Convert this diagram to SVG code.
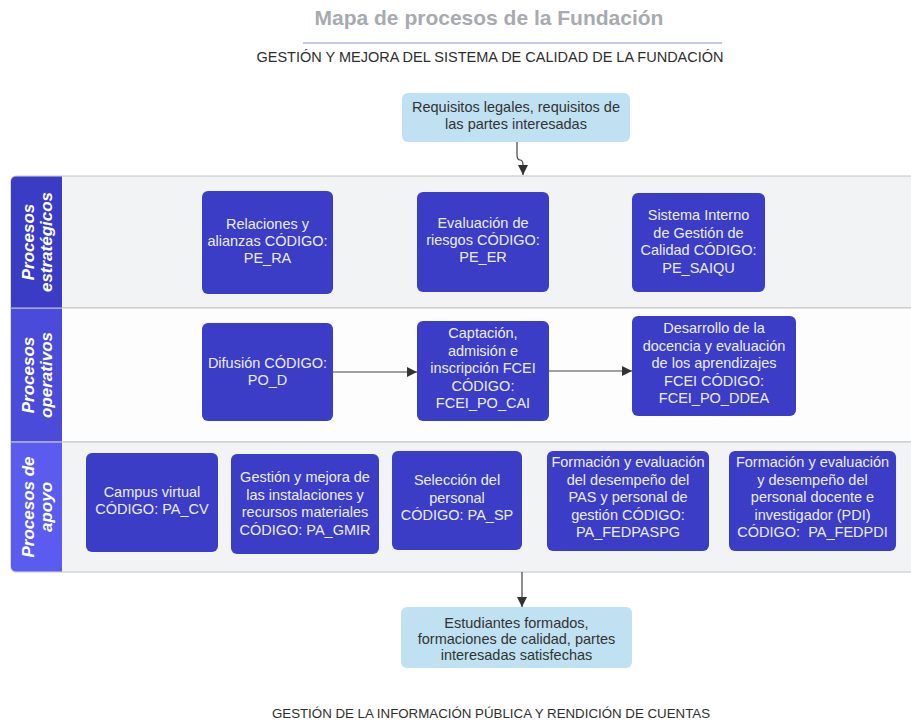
<svg xmlns="http://www.w3.org/2000/svg" width="911" height="725" viewBox="0 0 911 725">
<style>
.t{font-family:"Liberation Sans",Arial,sans-serif;}
.title{font-size:21px;font-weight:bold;fill:#a7aaae;}
.cap{font-size:14.5px;fill:#2e2e2e;}
.foot{font-size:13.3px;fill:#2e2e2e;}
.io rect{fill:#bfe1f2;}
.io text{font-size:14.5px;fill:#333;text-anchor:middle;}
.p rect{fill:#3b3dc6;}
.p text{font-size:14.5px;fill:#ececf7;text-anchor:middle;}
.hd{font-size:17px;font-weight:bold;font-style:italic;fill:#ffffff;text-anchor:middle;}
.lane{stroke:#c4c4c4;stroke-width:1.2;}
.edge{stroke:#444;stroke-width:1.2;fill:none;marker-end:url(#ah);}
</style>
<defs>
<marker id="ah" viewBox="0 0 10 10" refX="10" refY="5" markerWidth="10" markerHeight="10" markerUnits="userSpaceOnUse" orient="auto">
<path d="M0,0 L10,5 L0,10 z" fill="#333"/>
</marker>
</defs>
<rect width="911" height="725" fill="#ffffff"/>

<g id="header">
<text class="t title" x="489" y="25" text-anchor="middle">Mapa de procesos de la Fundación</text>
<line x1="303" y1="43" x2="722" y2="43" stroke="#8d8fd6" stroke-width="1.2"/>
<text class="t cap" x="490" y="62" text-anchor="middle">GESTIÓN Y MEJORA DEL SISTEMA DE CALIDAD DE LA FUNDACIÓN</text>
</g>

<g id="lanes">
<g id="lane-estrategicos">
<path class="lane" d="M916,176 H16 a5,5 0 0 0 -5,5 V308 H916" fill="#f1f3f4"/>
<path d="M62,176.6 H16 a5,5 0 0 0 -5,5 V308 H62 z" fill="#3b3cc6"/>
<text class="t hd" transform="translate(37,242) rotate(-90)"><tspan x="0" y="-3">Procesos</tspan><tspan x="0" y="15">estratégicos</tspan></text>
</g>
<g id="lane-operativos">
<path class="lane" d="M916,308 H11 V442 H916" fill="#fdfdfd"/>
<rect x="11" y="308.6" width="51" height="133" fill="#4a4bd8"/>
<text class="t hd" transform="translate(37,375) rotate(-90)"><tspan x="0" y="-3">Procesos</tspan><tspan x="0" y="15">operativos</tspan></text>
</g>
<g id="lane-apoyo">
<path class="lane" d="M916,442 H11 V567 a5,5 0 0 0 5,5 H916" fill="#f1f3f4"/>
<path d="M11,442.6 H62 V571.4 H16 a5,5 0 0 1 -5,-5 z" fill="#5a5cf0"/>
<text class="t hd" transform="translate(37,507) rotate(-90)"><tspan x="0" y="-3">Procesos de</tspan><tspan x="0" y="15">apoyo</tspan></text>
</g>
</g>

<g id="connectors">
<path class="edge" d="M517,142 V155 Q517,160 520,160 Q523,160 523,165 V175"/>
<path class="edge" d="M333,372 H417"/>
<path class="edge" d="M549,371 H632"/>
<path class="edge" d="M522,572 V607"/>
</g>

<g id="n-requisitos" class="io">
<rect x="402" y="93" width="228" height="49" rx="6"/>
<text class="t"><tspan x="516" y="112">Requisitos legales, requisitos de</tspan><tspan x="516" y="129">las partes interesadas</tspan></text>
</g>

<g id="n-pe-ra" class="p">
<rect x="202" y="191" width="131" height="103" rx="6"/>
<text class="t"><tspan x="267.5" y="229">Relaciones y</tspan><tspan x="267.5" y="246">alianzas CÓDIGO:</tspan><tspan x="267.5" y="263">PE_RA</tspan></text>
</g>
<g id="n-pe-er" class="p">
<rect x="417" y="192" width="132" height="100" rx="6"/>
<text class="t"><tspan x="483" y="228">Evaluación de</tspan><tspan x="483" y="245">riesgos CÓDIGO:</tspan><tspan x="483" y="262">PE_ER</tspan></text>
</g>
<g id="n-pe-saiqu" class="p">
<rect x="632" y="193" width="133" height="99" rx="6"/>
<text class="t"><tspan x="698.5" y="220">Sistema Interno</tspan><tspan x="698.5" y="237.5">de Gestión de</tspan><tspan x="698.5" y="255">Calidad CÓDIGO:</tspan><tspan x="698.5" y="272.5">PE_SAIQU</tspan></text>
</g>

<g id="n-po-d" class="p">
<rect x="202" y="323" width="131" height="98" rx="6"/>
<text class="t"><tspan x="267.5" y="368">Difusión CÓDIGO:</tspan><tspan x="267.5" y="385">PO_D</tspan></text>
</g>
<g id="n-po-cai" class="p">
<rect x="417" y="321" width="132" height="100" rx="6"/>
<text class="t"><tspan x="483" y="338">Captación,</tspan><tspan x="483" y="355.5">admisión e</tspan><tspan x="483" y="373">inscripción FCEI</tspan><tspan x="483" y="390.5">CÓDIGO:</tspan><tspan x="483" y="408">FCEI_PO_CAI</tspan></text>
</g>
<g id="n-po-ddea" class="p">
<rect x="632" y="316" width="164" height="100" rx="6"/>
<text class="t"><tspan x="714" y="333">Desarrollo de la</tspan><tspan x="714" y="350.5">docencia y evaluación</tspan><tspan x="714" y="368">de los aprendizajes</tspan><tspan x="714" y="385.5">FCEI CÓDIGO:</tspan><tspan x="714" y="403">FCEI_PO_DDEA</tspan></text>
</g>

<g id="n-pa-cv" class="p">
<rect x="86" y="453" width="132" height="99" rx="6"/>
<text class="t"><tspan x="152" y="497">Campus virtual</tspan><tspan x="152" y="514">CÓDIGO: PA_CV</tspan></text>
</g>
<g id="n-pa-gmir" class="p">
<rect x="231" y="454" width="148" height="100" rx="6"/>
<text class="t"><tspan x="305" y="482">Gestión y mejora de</tspan><tspan x="305" y="499.5">las instalaciones y</tspan><tspan x="305" y="517">recursos materiales</tspan><tspan x="305" y="534.5">CÓDIGO: PA_GMIR</tspan></text>
</g>
<g id="n-pa-sp" class="p">
<rect x="392" y="451" width="130" height="99" rx="6"/>
<text class="t"><tspan x="457" y="485">Selección del</tspan><tspan x="457" y="502.5">personal</tspan><tspan x="457" y="520">CÓDIGO: PA_SP</tspan></text>
</g>
<g id="n-pa-fedpaspg" class="p">
<rect x="547" y="451" width="162" height="100" rx="6"/>
<text class="t"><tspan x="628" y="467">Formación y evaluación</tspan><tspan x="628" y="484.5">del desempeño del</tspan><tspan x="628" y="502">PAS y personal de</tspan><tspan x="628" y="519.5">gestión CÓDIGO:</tspan><tspan x="628" y="537">PA_FEDPASPG</tspan></text>
</g>
<g id="n-pa-fedpdi" class="p">
<rect x="729" y="451" width="167" height="100" rx="6"/>
<text class="t"><tspan x="812.5" y="467">Formación y evaluación</tspan><tspan x="812.5" y="484.5">y desempeño del</tspan><tspan x="812.5" y="502">personal docente e</tspan><tspan x="812.5" y="519.5">investigador (PDI)</tspan><tspan x="812.5" y="537">CÓDIGO:&#160; PA_FEDPDI</tspan></text>
</g>

<g id="n-resultados" class="io">
<rect x="401" y="607" width="231" height="61" rx="6"/>
<text class="t"><tspan x="516.5" y="628">Estudiantes formados,</tspan><tspan x="516.5" y="644">formaciones de calidad, partes</tspan><tspan x="516.5" y="660">interesadas satisfechas</tspan></text>
</g>

<g id="footer">
<text class="t foot" x="491" y="718" text-anchor="middle">GESTIÓN DE LA INFORMACIÓN PÚBLICA Y RENDICIÓN DE CUENTAS</text>
</g>
</svg>
